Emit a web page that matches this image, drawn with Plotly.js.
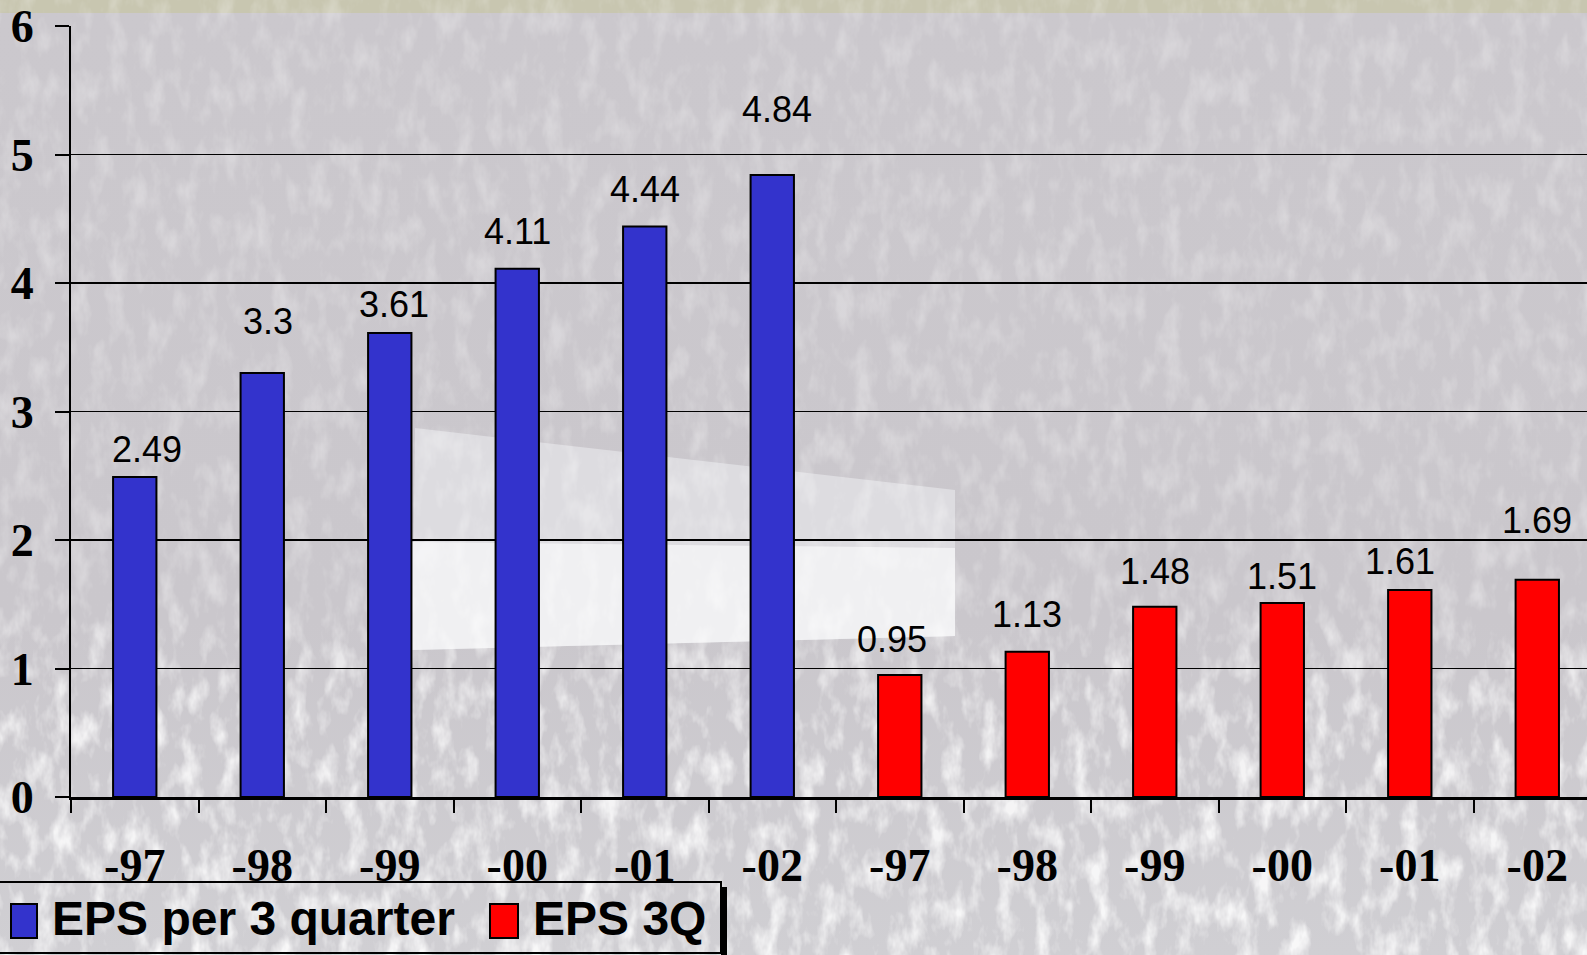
<!DOCTYPE html>
<html>
<head>
<meta charset="utf-8">
<script src="https://cdn.plot.ly/plotly-3.0.1.min.js"></script>
<style>
  html, body { margin: 0; padding: 0; overflow: hidden; background: #c9c6cb; }
  #wrap { position: relative; width: 1587px; height: 955px; }
  #bg, #chart { position: absolute; left: 0; top: 0; }
</style>
</head>
<body>
<div id="wrap">
  <!-- textured slide backdrop -->
  <svg id="bg" width="1587" height="955" xmlns="http://www.w3.org/2000/svg">
    <defs>
      <filter id="grain" x="0" y="0" width="100%" height="100%">
        <feTurbulence type="fractalNoise" baseFrequency="0.055 0.028" numOctaves="4" seed="11"/>
        <feColorMatrix type="matrix" values="0 0 0 0 1  0 0 0 0 1  0 0 0 0 1  0 0 0 2.6 -1.15"/>
      </filter>
      <linearGradient id="base" x1="0" y1="0" x2="0" y2="1">
        <stop offset="0" stop-color="#cbc8cd"/>
        <stop offset="0.65" stop-color="#cac7cc"/>
        <stop offset="1" stop-color="#d0cfd3"/>
      </linearGradient>
      <linearGradient id="fade" x1="0" y1="0" x2="0" y2="1">
        <stop offset="0" stop-color="#fff" stop-opacity="0.25"/>
        <stop offset="0.6" stop-color="#fff" stop-opacity="0.3"/>
        <stop offset="0.75" stop-color="#fff" stop-opacity="0.75"/>
        <stop offset="1" stop-color="#fff" stop-opacity="0.85"/>
      </linearGradient>
      <mask id="grainMask">
        <rect width="1587" height="955" fill="url(#fade)"/>
      </mask>
    </defs>
    <rect width="1587" height="955" fill="url(#base)"/>
    <rect width="1587" height="13" fill="#c8c6b0"/>
    <polygon points="415,428 955,490 955,636 412,650" fill="#dddce0"/>
    <polygon points="412,542 955,548 955,636 412,650" fill="#f0f0f2"/>
    <rect width="1587" height="955" filter="url(#grain)" mask="url(#grainMask)"/>
  </svg>
  <div id="chart"></div>
</div>
<script>
// Earnings per share, cumulative three quarters and third quarter only
const years = ['-97', '-98', '-99', '-00', '-01', '-02'];
const epsPer3Quarter = [2.49, 3.3, 3.61, 4.11, 4.44, 4.84];
const eps3Q = [0.95, 1.13, 1.48, 1.51, 1.61, 1.69];
const seriesNames = ['EPS per 3 quarter', 'EPS 3Q'];
const seriesColors = ['#3333cc', '#ff0000'];
const yTickValues = [0, 1, 2, 3, 4, 5, 6];

// value-label placement (pixels above / beside the top of each bar)
const labelLift = [[28, 51, 29, 37, 37, 66], [35, 37, 35, 26, 29, 59]];
const labelNudge = [[12, 6, 4, 0, 0, 5], [-8, 0, 0, 0, -10, 0]];

// each group of years gets its own slots on the category axis
const keysA = years.map(y => 'A' + y);
const keysB = years.map(y => 'B' + y);
const allKeys = keysA.concat(keysB);
const allLabels = years.concat(years);

const W = 1587, H = 955;
const M = { l: 71, r: 0, t: 26, b: 158 };
const plotW = W - M.l - M.r, plotH = H - M.t - M.b;
const px = x => (x - M.l) / plotW;          // pixel -> paper x
const py = y => (H - M.b - y) / plotH;      // pixel -> paper y

function barTrace(keys, values, i) {
  return {
    type: 'bar',
    name: seriesNames[i],
    x: keys,
    y: values,
    width: 0.34,
    marker: { color: seriesColors[i], line: { color: '#000', width: 2 } },
    showlegend: false,
    hoverinfo: 'x+y'
  };
}

const data = [barTrace(keysA, epsPer3Quarter, 0), barTrace(keysB, eps3Q, 1)];

const valueLabels = [];
[[keysA, epsPer3Quarter], [keysB, eps3Q]].forEach(([keys, values], s) => {
  values.forEach((v, i) => {
    valueLabels.push({
      x: keys[i], y: v, xref: 'x', yref: 'y',
      text: String(v), showarrow: false,
      xanchor: 'center', yanchor: 'middle',
      yshift: labelLift[s][i], xshift: labelNudge[s][i],
      font: { family: 'Liberation Sans, Arial, sans-serif', size: 36, color: '#000' }
    });
  });
});

const serif = { family: 'Liberation Serif, Times New Roman, serif', size: 46, color: '#000', weight: 'bold' };

// legend box drawn as shapes so the swatches can be large
const legendShapes = [
  { type: 'rect', xref: 'paper', yref: 'paper', x0: px(721), x1: px(727), y0: py(955), y1: py(887),
    fillcolor: '#000', line: { width: 0 } },
  { type: 'rect', xref: 'paper', yref: 'paper', x0: px(-2), x1: px(721), y0: py(953), y1: py(882),
    fillcolor: 'rgba(0,0,0,0)', line: { color: '#000', width: 2 } },
  { type: 'rect', xref: 'paper', yref: 'paper', x0: px(11), x1: px(37), y0: py(938), y1: py(904),
    fillcolor: seriesColors[0], line: { color: '#000', width: 2 } },
  { type: 'rect', xref: 'paper', yref: 'paper', x0: px(490), x1: px(518), y0: py(938), y1: py(904),
    fillcolor: seriesColors[1], line: { color: '#000', width: 2 } }
];
const legendText = [
  { x: px(50), text: seriesNames[0] },
  { x: px(531), text: seriesNames[1] }
].map(a => ({
  xref: 'paper', yref: 'paper', x: a.x, y: py(919), xanchor: 'left', yanchor: 'middle',
  text: a.text, showarrow: false,
  font: { family: 'Liberation Sans, Arial, sans-serif', size: 48, color: '#000', weight: 'bold' }
}));

const layout = {
  width: W, height: H,
  margin: M,
  paper_bgcolor: 'rgba(0,0,0,0)',
  plot_bgcolor: 'rgba(0,0,0,0)',
  barmode: 'overlay',
  showlegend: false,
  xaxis: {
    type: 'category',
    categoryorder: 'array',
    categoryarray: allKeys,
    range: [-0.5, 11.39],
    tickmode: 'array',
    tickvals: allKeys,
    ticktext: allLabels,
    tickson: 'boundaries',
    ticks: 'outside', ticklen: 13, tickwidth: 2, tickcolor: '#000',
    showline: true, linecolor: '#000', linewidth: 3,
    showgrid: false, zeroline: false,
    tickfont: serif,
    ticklabelstandoff: 26,
    fixedrange: true
  },
  yaxis: {
    range: [0, 6],
    tickmode: 'array',
    tickvals: yTickValues,
    ticks: 'outside', ticklen: 14, tickwidth: 2, tickcolor: '#000',
    showline: true, linecolor: '#000', linewidth: 2,
    showgrid: true, gridcolor: '#000', gridwidth: 1.5,
    zeroline: false,
    tickfont: serif,
    ticklabelstandoff: 12,
    fixedrange: true
  },
  shapes: legendShapes,
  annotations: valueLabels.concat(legendText)
};

Plotly.newPlot('chart', data, layout, { displayModeBar: false, staticPlot: true });
</script>
</body>
</html>
